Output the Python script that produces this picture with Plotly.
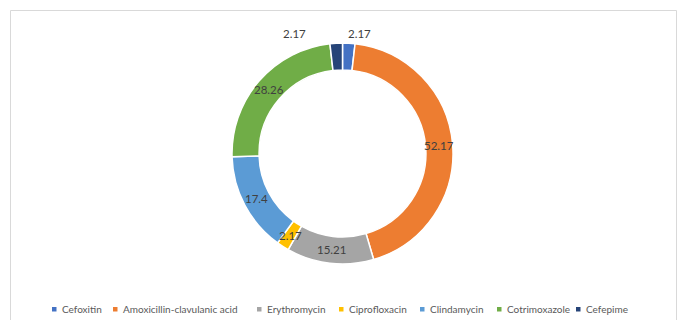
import math
import plotly.graph_objects as go

# Antibiotic resistance shares (%) by drug
categories = ["Cefoxitin", "Amoxicillin-clavulanic acid", "Erythromycin",
              "Ciprofloxacin", "Clindamycin", "Cotrimoxazole", "Cefepime"]
values = [2.17, 52.17, 15.21, 2.17, 17.4, 28.26, 2.17]

colors = ["#4472C4", "#ED7D31", "#A5A5A5", "#FFC000", "#5B9BD5", "#70AD47", "#264478"]

W, H = 680, 320
CX, CY, R = 342.5, 153.5, 110.5   # ring centre and outer radius (px)
HOLE = 0.755

fig = go.Figure(go.Pie(
    labels=categories,
    values=values,
    hole=HOLE,
    sort=False,
    direction="clockwise",
    rotation=0,
    textinfo="none",
    hoverinfo="label+value",
    marker=dict(colors=colors, line=dict(color="white", width=1.5)),
    domain=dict(x=[(CX - R) / W, (CX + R) / W],
                y=[(H - CY - R) / H, (H - CY + R) / H]),
    showlegend=False,
))

# value labels at the middle of each ring segment
total = sum(values)
mid_r = R * (1 + HOLE) / 2
outside = {0: (11, 10), 6: (-42, 10)}   # small top slices get lifted labels
annotations = []
cum = 0.0
for i, v in enumerate(values):
    ang = 2 * math.pi * (cum + v / 2) / total
    cum += v
    r = mid_r
    xs, ys = 0, 0
    if i in outside:
        r = R
        xs, ys = outside[i]
    px = CX + r * math.sin(ang)
    py = CY - r * math.cos(ang)
    annotations.append(dict(
        x=px / W, y=1 - py / H, xref="paper", yref="paper",
        text=f"{v:g}", showarrow=False, xshift=xs, yshift=ys,
        font=dict(family="Lato, Carlito, sans-serif", size=11.5, color="#404040"),
        xanchor="center", yanchor="middle",
    ))

# legend row along the bottom
legend_x = [52, 113, 257, 339, 420, 497, 576]
legend_y = 309
shapes = [dict(type="rect", xref="paper", yref="paper",
               x0=10.5 / W, x1=676.5 / W, y0=-0.05, y1=1 - 10.5 / H,
               line=dict(color="#D9D9D9", width=1), fillcolor="rgba(0,0,0,0)")]
for lx, name, col in zip(legend_x, categories, colors):
    shapes.append(dict(type="rect", xref="paper", yref="paper",
                       x0=lx / W, x1=(lx + 4.5) / W,
                       y0=1 - (legend_y + 2.5) / H, y1=1 - (legend_y - 2) / H,
                       fillcolor=col, line=dict(width=0)))
    annotations.append(dict(
        x=(lx + 8) / W, y=1 - legend_y / H, xref="paper", yref="paper",
        text=name, showarrow=False, xanchor="left", yanchor="middle",
        font=dict(family="Lato, Carlito, sans-serif", size=10, color="#595959"),
    ))

fig.update_layout(
    width=W, height=H,
    margin=dict(l=0, r=0, t=0, b=0),
    paper_bgcolor="white",
    plot_bgcolor="white",
    annotations=annotations,
    shapes=shapes,
)

fig.write_html("out.html")
